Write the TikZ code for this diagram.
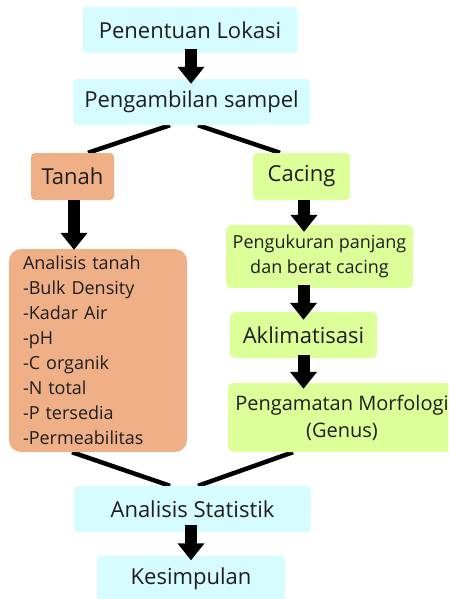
\documentclass[tikz,border=0pt]{standalone}
\usepackage{fontspec}
\setmainfont{Open Sans}
\usetikzlibrary{arrows.meta,backgrounds}
\definecolor{cyanbox}{HTML}{D6FCFF}
\definecolor{salmonbox}{HTML}{EFB088}
\definecolor{greenbox}{HTML}{DDFF99}
\definecolor{txt}{HTML}{1E1E1E}
\tikzset{
  box/.style={rounded corners=4pt, draw=none, inner sep=0pt, align=center, text=txt, font=\fontsize{22}{26}\selectfont},
  cyanb/.style={box, fill=cyanbox},
  salb/.style={box, fill=salmonbox},
  greenb/.style={box, fill=greenbox},
  blockarrow/.style={line width=12pt, -{Triangle[width=26pt,length=17pt]}, black},
  joinline/.style={line width=4.5pt, black}
}
\begin{document}
\begin{tikzpicture}[x=1pt,y=-1pt]
\useasboundingbox (0,0) rectangle (448,599);
\clip (0,0) rectangle (448,599);
\node[cyanb, minimum width=215pt, minimum height=46pt] (lok) at (190,30) {Penentuan Lokasi};
\node[cyanb, minimum width=237pt, minimum height=46pt] (samp) at (191.5,102) {Pengambilan sampel};
\node[salb, minimum width=83pt, minimum height=47pt] (tanah) at (72.5,176.5) {Tanah};
\node[greenb, minimum width=97pt, minimum height=47pt] (cacing) at (301.5,176.5) {Cacing};
\node[salb, rounded corners=12pt, minimum width=178pt, minimum height=203pt, text width=150pt, inner xsep=14pt, align=left,
  font=\fontsize{18}{25}\selectfont] (anal) at (98,350.5) {Analisis tanah\\-Bulk Density\\-Kadar Air\\-pH\\-C organik\\-N total\\-P tersedia\\-Permeabilitas};
\node[greenb, rounded corners=5pt, minimum width=187pt, minimum height=63pt, font=\fontsize{18}{25}\selectfont] (ukur) at (319.5,256.5) {Pengukuran panjang\\dan berat cacing};
\node[greenb, rounded corners=5pt, minimum width=147pt, minimum height=46pt] (akli) at (303.5,335) {Aklimatisasi};
\node[greenb, rounded corners=5pt, minimum width=228pt, minimum height=69pt, font=\fontsize{20}{27}\selectfont] (morf) at (342,417.5) {Pengamatan Morfologi\\(Genus)};
\node[cyanb, minimum width=237pt, minimum height=46pt] (stat) at (192.5,509) {Analisis Statistik};
\node[cyanb, minimum width=188pt, minimum height=46pt] (kesim) at (191,578.5) {Kesimpulan};
% block arrows
\draw[blockarrow, shorten <=-4pt, shorten >=-5pt] ([xshift=1pt]lok.south) -- ([xshift=1pt]lok.south |- samp.north);
\draw[blockarrow, shorten >=-1pt] ([xshift=1.5pt]tanah.south) -- ([xshift=1.5pt]tanah.south |- anal.north);
\draw[blockarrow, shorten >=-7pt] ([xshift=2.5pt]cacing.south) -- ([xshift=2.5pt]cacing.south |- ukur.north);
\draw[blockarrow, shorten <=-3pt, shorten >=-8pt] (akli.north |- ukur.south) -- (akli.north);
\draw[blockarrow, shorten <=-3pt, shorten >=-6pt] (akli.south) -- (akli.south |- morf.north);
\draw[blockarrow, shorten <=-7pt, shorten >=-5pt] ([xshift=-1.5pt]stat.south) -- ([xshift=-1.5pt]stat.south |- kesim.north);
% joining lines
\begin{scope}[on background layer]
\draw[joinline] ([xshift=-21.5pt]samp.south) -- ([xshift=15.5pt]tanah.north);
\draw[joinline] ([xshift=6.5pt]samp.south) -- ([xshift=-21.5pt]cacing.north);
\draw[joinline] ([xshift=-26pt]anal.south) -- ([xshift=-22.5pt]stat.north);
\draw[joinline] ([xshift=-49pt]morf.south) -- ([xshift=5.5pt]stat.north);
\end{scope}
\end{tikzpicture}
\end{document}
